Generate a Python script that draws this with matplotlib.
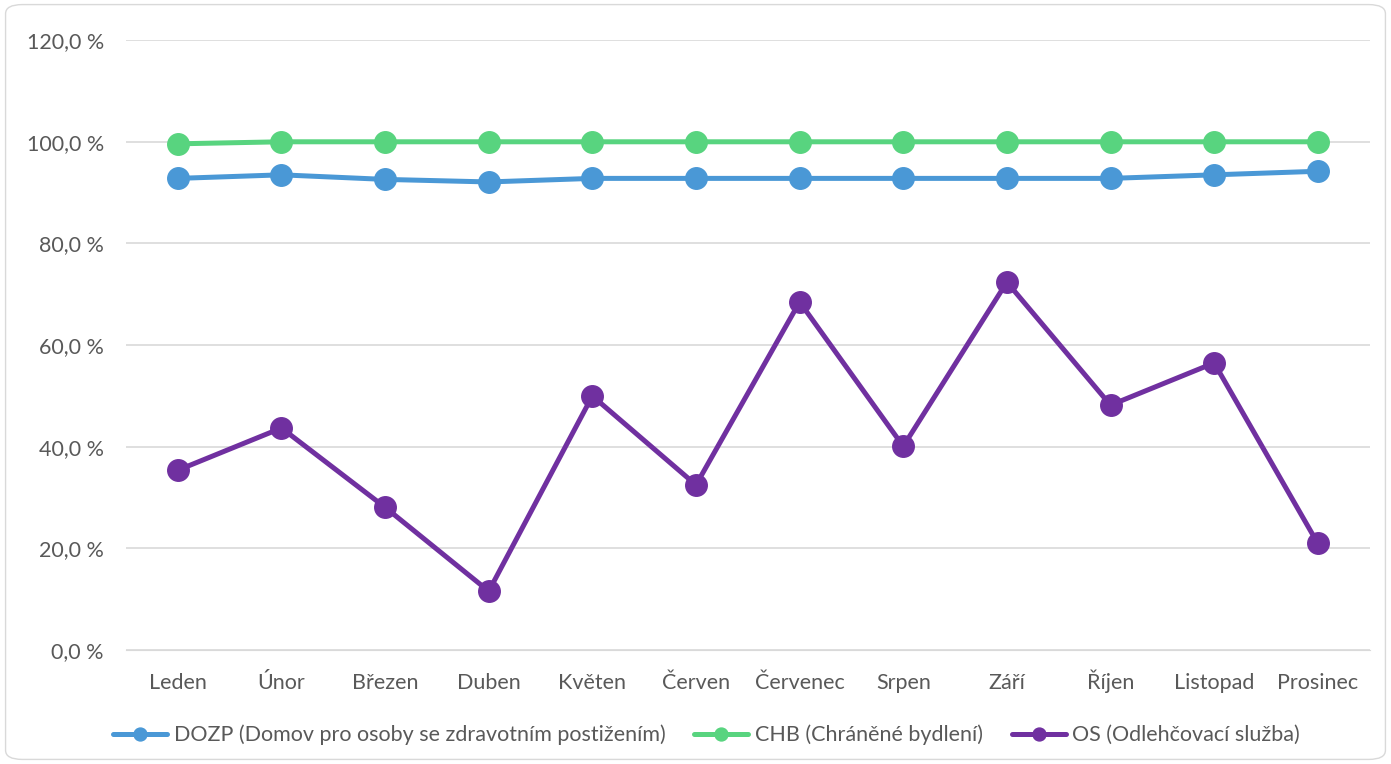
import matplotlib.pyplot as plt
from matplotlib.patches import FancyBboxPatch

plt.rcParams['font.family'] = ['Lato', 'DejaVu Sans']

months = ["Leden", "Únor", "Březen", "Duben", "Květen", "Červen",
          "Červenec", "Srpen", "Září", "Říjen", "Listopad", "Prosinec"]
dozp = [92.8, 93.5, 92.6, 92.1, 92.8, 92.8, 92.8, 92.8, 92.8, 92.8, 93.5, 94.2]
chb = [99.6, 100, 100, 100, 100, 100, 100, 100, 100, 100, 100, 100]
os_vals = [35.4, 43.7, 28.1, 11.6, 50.0, 32.5, 68.5, 40.1, 72.4, 48.2, 56.5, 21.0]

labels = ["DOZP (Domov pro osoby se zdravotním postižením)",
          "CHB (Chráněné bydlení)",
          "OS (Odlehčovací služba)"]
colors = ["#4A98D6", "#58D47F", "#7030A0"]

fig = plt.figure(figsize=(13.91, 7.64), dpi=100)
border = FancyBboxPatch((0.004, 0.006), 0.992, 0.988,
                        boxstyle="round,pad=0,rounding_size=0.012",
                        transform=fig.transFigure, fc="white",
                        ec="#D9D9D9", lw=1, zorder=-10)
fig.patches.append(border)
ax = fig.add_axes([0.0906, 0.149, 0.894, 0.7985])
ax.set_facecolor("none")

x = range(len(months))
for vals, lab, c in zip([dozp, chb, os_vals], labels, colors):
    ax.plot(x, vals, color=c, lw=3.6, marker="o", markersize=15.5,
            label=lab, solid_capstyle="round", zorder=3)

ax.set_xlim(-0.5, 11.5)
ax.set_ylim(0, 120)
ax.set_yticks(range(0, 121, 20))
ax.set_yticklabels([f"{v},0 %" for v in range(0, 121, 20)])
ax.set_xticks(list(x))
ax.set_xticklabels(months, va="baseline")
ax.grid(axis="y", color="#D9D9D9", lw=1.2)
ax.set_axisbelow(True)
for s in ax.spines.values():
    s.set_visible(False)
ax.spines["bottom"].set_visible(True)
ax.spines["bottom"].set_color("#D9D9D9")
ax.tick_params(length=0, labelsize=15.5, colors="#595959")
ax.tick_params(axis="x", pad=28)
ax.tick_params(axis="y", pad=16)

leg = fig.legend(loc="center", bbox_to_anchor=(0.508, 0.038), ncol=3,
                 frameon=False, fontsize=15.5, handlelength=2.5,
                 columnspacing=1.35, handletextpad=0.3, markerscale=0.6)
for t in leg.get_texts():
    t.set_color("#595959")

fig.savefig("out.png", dpi=100)
